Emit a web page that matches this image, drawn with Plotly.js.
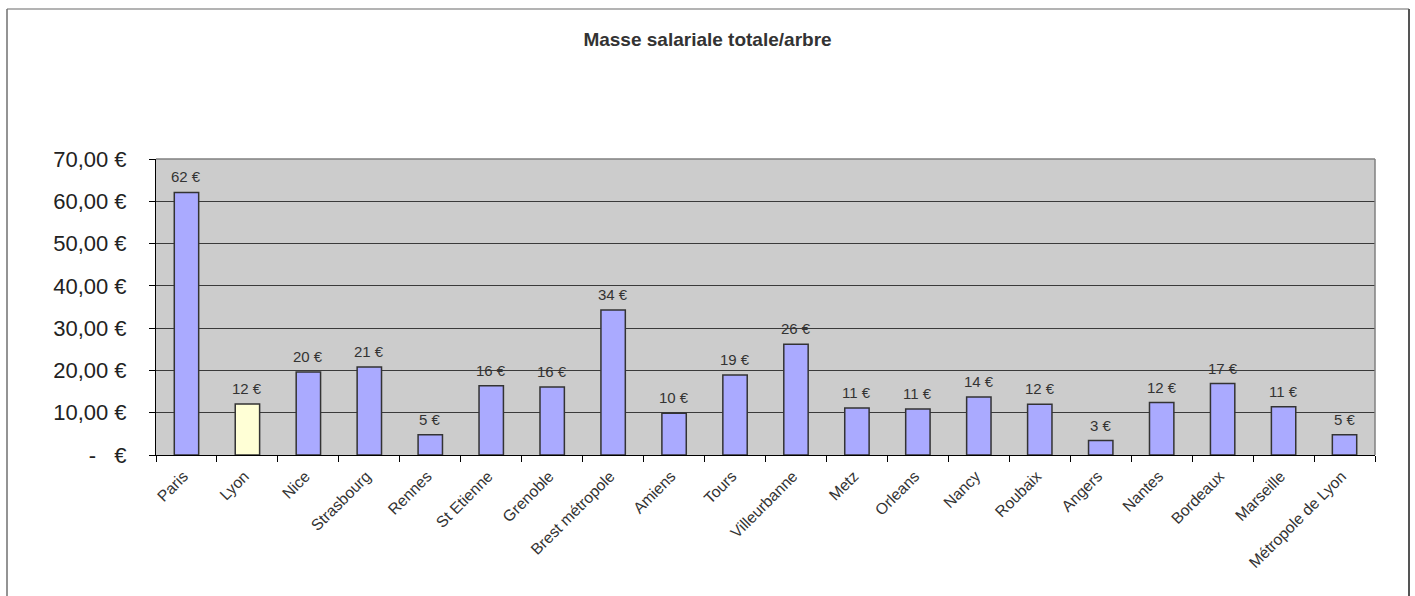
<!DOCTYPE html>
<html>
<head>
<meta charset="utf-8">
<script src="https://cdn.plot.ly/plotly-3.0.1.min.js"></script>
<style>
  html, body { margin: 0; padding: 0; background: #ffffff; }
  #chart { width: 1415px; height: 596px; }
</style>
</head>
<body>
<div id="chart"></div>
<script>
// Payroll cost per tree, by city
const cities = [
  'Paris', 'Lyon', 'Nice', 'Strasbourg', 'Rennes', 'St Etienne', 'Grenoble',
  'Brest métropole', 'Amiens', 'Tours', 'Villeurbanne', 'Metz', 'Orleans',
  'Nancy', 'Roubaix', 'Angers', 'Nantes', 'Bordeaux', 'Marseille',
  'Métropole de Lyon'
];
const costPerTree = [
  62.1, 12.05, 19.6, 20.8, 4.8, 16.4, 16.1,
  34.3, 9.9, 18.9, 26.2, 11.1, 10.9,
  13.7, 12.0, 3.4, 12.4, 16.9, 11.4,
  4.8
];
const highlightedCity = 'Lyon';

const yTickValues = [0, 10, 20, 30, 40, 50, 60, 70];
const yTickLabels = ['-\u00a0\u00a0\u00a0€', '10,00 €', '20,00 €', '30,00 €',
                     '40,00 €', '50,00 €', '60,00 €', '70,00 €'];

const FONT = 'Liberation Sans, Arial, Helvetica, sans-serif';
const BLUE = '#aaaaff';
const YELLOW = '#ffffd6';

const barColors = cities.map(c => c === highlightedCity ? YELLOW : BLUE);

const trace = {
  type: 'bar',
  x: cities,
  y: costPerTree,
  marker: {
    color: barColors,
    line: { color: '#333333', width: 1.5 }
  },
  hoverinfo: 'skip'
};

// value labels above each bar, rounded to whole euros
const valueLabels = cities.map((c, i) => ({
  x: c,
  y: costPerTree[i],
  xref: 'x',
  yref: 'y',
  text: Math.round(costPerTree[i]) + ' €',
  showarrow: false,
  yanchor: 'bottom',
  yshift: 5,
  font: { family: FONT, size: 15, color: '#333333' }
}));

const layout = {
  width: 1415,
  height: 596,
  margin: { l: 156, r: 40, t: 159, b: 141, pad: 0 },
  paper_bgcolor: '#ffffff',
  plot_bgcolor: '#cccccc',
  showlegend: false,
  bargap: 0.6,
  title: {
    text: '<b>Masse salariale totale/arbre</b>',
    font: { family: FONT, size: 19, color: '#333333' },
    x: 0.5,
    xref: 'container',
    xanchor: 'center',
    y: 1 - 39 / 596,
    yref: 'container',
    yanchor: 'middle'
  },
  xaxis: {
    type: 'category',
    tickangle: -45,
    ticks: 'outside',
    tickson: 'boundaries',
    ticklen: 6,
    tickwidth: 1,
    tickcolor: '#000000',
    ticklabelstandoff: 5,
    ticklabelshift: -3,
    showline: true,
    linecolor: '#000000',
    linewidth: 1,
    showgrid: false,
    zeroline: false,
    tickfont: { family: FONT, size: 15.7, color: '#333333' },
    fixedrange: true
  },
  yaxis: {
    range: [0, 70],
    tickmode: 'array',
    tickvals: yTickValues,
    ticktext: yTickLabels,
    ticks: 'outside',
    ticklen: 6,
    tickwidth: 1,
    tickcolor: '#000000',
    ticklabelstandoff: 18,
    showline: true,
    linecolor: '#000000',
    linewidth: 1,
    showgrid: true,
    gridcolor: '#3a3a3a',
    gridwidth: 1,
    zeroline: false,
    tickfont: { family: FONT, size: 22, color: '#222222' },
    fixedrange: true
  },
  annotations: valueLabels,
  shapes: [
    // plot area border (top and right)
    { type: 'line', xref: 'paper', yref: 'paper', x0: 0, x1: 1, y0: 1, y1: 1,
      line: { color: '#808080', width: 1.5 }, layer: 'above' },
    { type: 'line', xref: 'paper', yref: 'paper', x0: 1, x1: 1, y0: 0, y1: 1,
      line: { color: '#808080', width: 1.5 }, layer: 'above' },
    // outer chart frame
    { type: 'line', xref: 'paper', yref: 'paper',
      x0: (7 - 156) / 1219, x1: (1409 - 156) / 1219,
      y0: (455 - 9) / 296, y1: (455 - 9) / 296,
      line: { color: '#9a9a9a', width: 1.5 } },
    { type: 'line', xref: 'paper', yref: 'paper',
      x0: (7 - 156) / 1219, x1: (7 - 156) / 1219,
      y0: (455 - 9) / 296, y1: (455 - 620) / 296,
      line: { color: '#707070', width: 1.5 } },
    { type: 'line', xref: 'paper', yref: 'paper',
      x0: (1409 - 156) / 1219, x1: (1409 - 156) / 1219,
      y0: (455 - 9) / 296, y1: (455 - 620) / 296,
      line: { color: '#555555', width: 2 } }
  ]
};

Plotly.newPlot('chart', [trace], layout, { staticPlot: true, displayModeBar: false });
</script>
</body>
</html>
